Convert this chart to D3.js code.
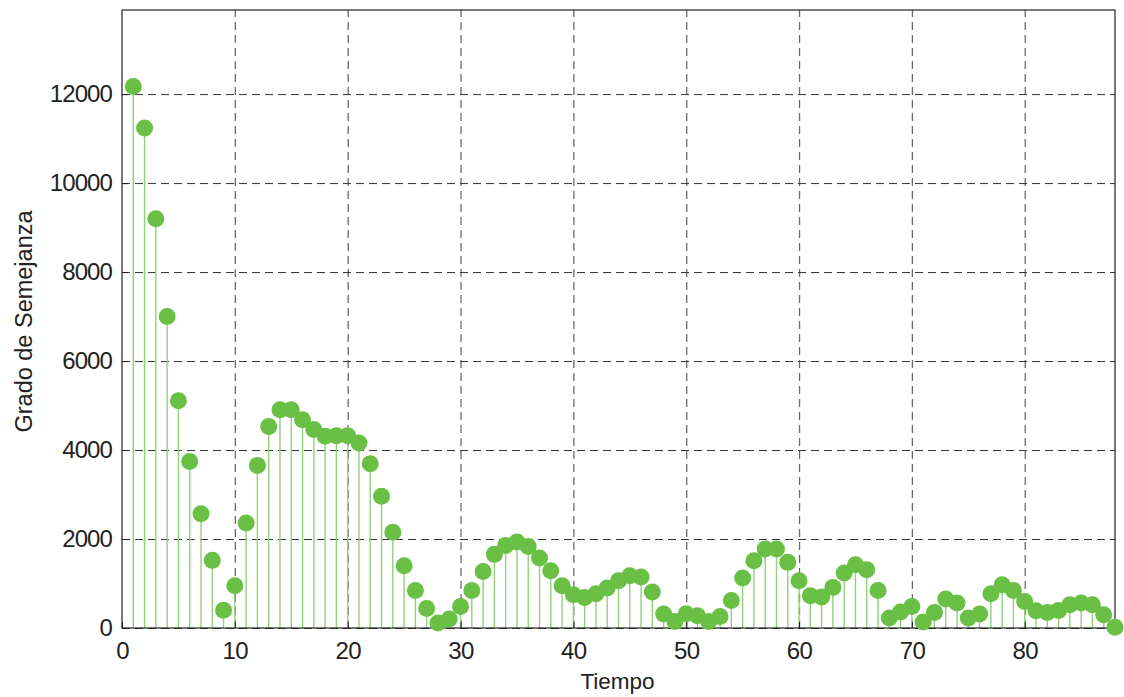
<!DOCTYPE html>
<html>
<head>
<meta charset="utf-8">
<script src="https://cdn.jsdelivr.net/npm/d3@7"></script>
<style>
  body { margin: 0; background: #fff; }
  text { font-family: "Liberation Sans", Arial, sans-serif; fill: #222; }
</style>
</head>
<body>
<svg id="chart" width="1124" height="697"></svg>
<script>
// Data
let tiempo = d3.range(1, 89);
let grado = [
  12170, 11240, 9200, 7000, 5110, 3740, 2570, 1520, 400, 950,
  2360, 3655, 4530, 4905, 4905, 4680, 4460, 4310, 4320, 4320,
  4160, 3690, 2960, 2150, 1400, 845, 440, 112, 200, 485,
  845, 1272, 1655, 1857, 1933, 1834, 1573, 1288, 950, 748,
  688, 771, 899, 1063, 1175, 1146, 809, 315, 148, 321,
  276, 148, 261, 620, 1124, 1513, 1776, 1776, 1475, 1063,
  726, 697, 913, 1236, 1423, 1310, 845, 225, 360, 485,
  135, 351, 652, 562, 225, 315, 771, 973, 845, 598,
  389, 351, 396, 524, 562, 524, 299, 15
];
let xTicks = [0, 10, 20, 30, 40, 50, 60, 70, 80];
let yTicks = [0, 2000, 4000, 6000, 8000, 10000, 12000];

// Layout
let svg = d3.select("svg#chart");
let margin = { "top": 10, "right": 9, "bottom": 69, "left": 122 };
let chartWidth = 1124 - margin.left - margin.right;
let chartHeight = 697 - margin.top - margin.bottom;

let stemColor = "#8fd27a";
let dotColor = "#6abf45";

const xScale = d3.scaleLinear()
  .domain([0, 88])
  .range([0, chartWidth]);

const yScale = d3.scaleLinear()
  .domain([0, 13890])
  .range([chartHeight, 0]);

let g = svg.append("g")
  .attr("transform", "translate(" + margin.left + "," + margin.top + ")");

// Gridlines
let vGrid = d3.axisBottom(xScale).tickValues(xTicks.slice(1)).tickSize(-chartHeight).tickFormat("");
let hGrid = d3.axisLeft(yScale).tickValues(yTicks).tickSize(-chartWidth).tickFormat("");

g.append("g")
  .attr("transform", "translate(0," + chartHeight + ")")
  .call(vGrid)
  .call(a => a.select(".domain").remove())
  .selectAll("line")
  .attr("stroke", "#6a6a6a")
  .attr("stroke-width", 1.3)
  .attr("stroke-dasharray", "8,5");

g.append("g")
  .call(hGrid)
  .call(a => a.select(".domain").remove())
  .selectAll("line")
  .attr("stroke", "#333")
  .attr("stroke-width", 1)
  .attr("stroke-dasharray", "8,5");

// Stems
g.selectAll(".stem")
  .data(grado)
  .enter()
  .append("line")
  .attr("class", "stem")
  .attr("x1", (d, i) => xScale(tiempo[i]))
  .attr("x2", (d, i) => xScale(tiempo[i]))
  .attr("y1", yScale(0))
  .attr("y2", d => yScale(d))
  .attr("stroke", stemColor)
  .attr("stroke-width", 1.4);

// Frame
g.append("rect")
  .attr("width", chartWidth)
  .attr("height", chartHeight)
  .attr("fill", "none")
  .attr("stroke", "#222")
  .attr("stroke-width", 1.2);

// Axes with inward ticks
let leftAxis = d3.axisLeft(yScale).tickValues(yTicks).tickSize(-6).tickPadding(10).tickFormat(d3.format("d"));
let bottomAxis = d3.axisBottom(xScale).tickValues(xTicks).tickSize(-6).tickPadding(14).tickFormat(d3.format("d"));

g.append("g")
  .call(leftAxis)
  .call(a => a.select(".domain").remove())
  .call(a => a.selectAll("line").attr("stroke", "#222"))
  .call(a => a.selectAll("text").attr("font-size", "24px").attr("letter-spacing", "-0.9px").attr("fill", "#222"));

g.append("g")
  .attr("transform", "translate(0," + chartHeight + ")")
  .call(bottomAxis)
  .call(a => a.select(".domain").remove())
  .call(a => a.selectAll("line").attr("stroke", "#222"))
  .call(a => a.selectAll("text").attr("font-size", "24px").attr("letter-spacing", "-0.6px").attr("fill", "#222"));

// Dots
g.selectAll(".dot")
  .data(grado)
  .enter()
  .append("circle")
  .attr("class", "dot")
  .attr("cx", (d, i) => xScale(tiempo[i]))
  .attr("cy", d => yScale(d))
  .attr("r", 8.5)
  .attr("fill", dotColor);

// Axis labels
svg.append("text")
  .attr("text-anchor", "middle")
  .attr("x", 617.5)
  .attr("y", 689)
  .attr("font-size", "22.5px")
  .text("Tiempo");

let xCent = 32;
let yCent = 321.5;
svg.append("text")
  .attr("text-anchor", "middle")
  .attr("x", xCent)
  .attr("y", yCent)
  .attr("font-size", "23.5px")
  .attr("transform", "rotate(-90," + xCent + "," + yCent + ")")
  .text("Grado de Semejanza");
</script>
</body>
</html>
